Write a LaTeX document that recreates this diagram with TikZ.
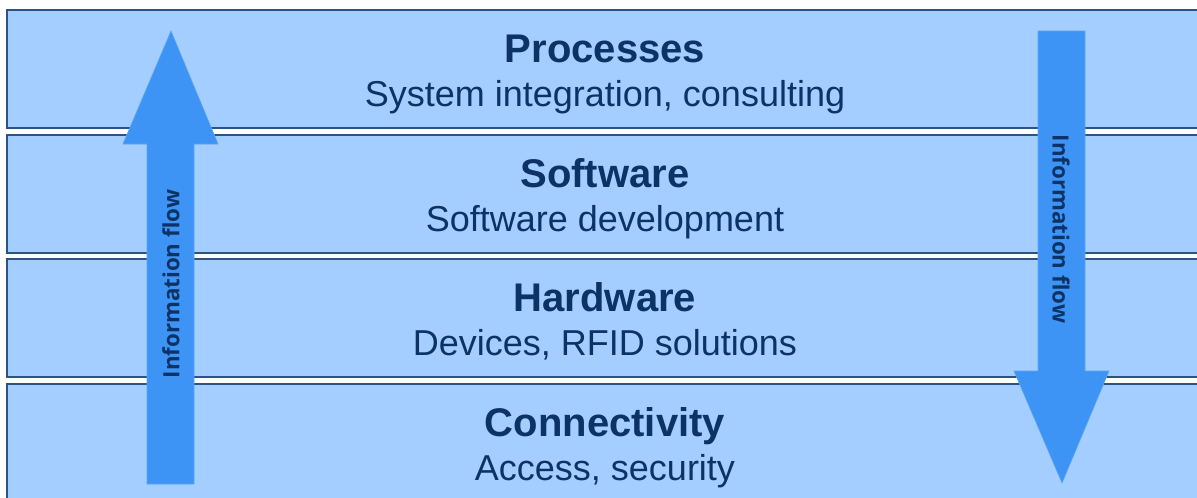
\documentclass[tikz,border=0pt]{standalone}
\usepackage{fontspec}
\setmainfont{Liberation Sans}
\newfontfamily\flowfont{Open Sans}
\definecolor{bandfill}{HTML}{A3CEFF}
\definecolor{bandline}{HTML}{2B5485}
\definecolor{arrowfill}{HTML}{3D94F5}
\definecolor{navy}{HTML}{0D3366}
\begin{document}
\begin{tikzpicture}[x=1pt,y=-1pt,
  band/.style={draw=bandline,line width=1.7pt,fill=bandfill},
  title/.style={anchor=base,text=navy,font=\fontsize{40}{40}\selectfont\bfseries,inner sep=0pt},
  subtitle/.style={anchor=base,text=navy,font=\fontsize{36}{36}\selectfont,inner sep=0pt},
  bigarrow/.style={fill=arrowfill,draw=arrowfill!85!white,line width=0.6pt},
  flowlabel/.style={text=navy,font=\flowfont\fontsize{22.3}{22.3}\selectfont\bfseries,inner sep=0pt}]
\useasboundingbox (0,0) rectangle (1197,498);
\clip (0,0) rectangle (1197,498);
% bands
\draw[band] (7,10) rectangle (1215,128);
\draw[band] (7,135) rectangle (1215,253);
\draw[band] (7,259) rectangle (1215,377);
\draw[band] (7,384) rectangle (1215,515);
% texts
\node[title] (t1) at (605,62) {Processes};
\node[subtitle] (s1) at (605,106) {System integration, consulting};
\node[title] (t2) at (605,187) {Software};
\node[subtitle] (s2) at (605,231) {Software development};
\node[title] (t3) at (605,311) {Hardware};
\node[subtitle] (s3) at (605,355) {Devices, RFID solutions};
\node[title] (t4) at (605,436) {Connectivity};
\node[subtitle] (s4) at (605,480) {Access, security};
% up arrow
\filldraw[bigarrow] (147,484) -- (147,144) -- (123,144) -- (171,31) -- (218,144) -- (194,144) -- (194,484) -- cycle;
\node[flowlabel,rotate=90] (fl) at (171,284) {Information flow};
% down arrow
\filldraw[bigarrow] (1038,31) -- (1085,31) -- (1085,371) -- (1109,371) -- (1062,483) -- (1014,371) -- (1038,371) -- cycle;
\node[flowlabel,rotate=-90] (fr) at (1061,229) {Information flow};
\end{tikzpicture}
\end{document}
